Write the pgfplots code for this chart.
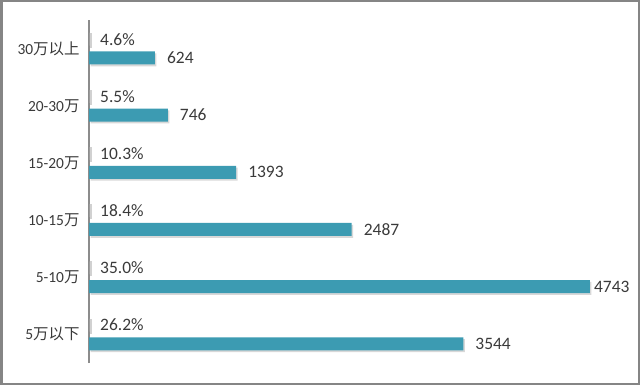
\documentclass[border=0pt]{standalone}
\usepackage{pgfplots}
\pgfplotsset{compat=1.18}
\usepackage{fontspec}
\setmainfont{Carlito}
\newfontfamily\cjk{Noto Sans CJK SC}
\usetikzlibrary{shadows}
\definecolor{barteal}{HTML}{3C9BB2}
\definecolor{txt}{HTML}{3A3A3A}
\definecolor{framegray}{HTML}{858585}
\definecolor{axisgray}{HTML}{8C8C8C}
\begin{document}
\begin{tikzpicture}[x=1bp,y=1bp]
\useasboundingbox (0,0) rectangle (640,385);
\draw[framegray, line width=2.5bp] (1.25,1.25) rectangle (638.75,383.75);
\begin{axis}[
  at={(89bp,22bp)}, anchor=south west,
  scale only axis, width=528bp, height=343bp,
  xbar, bar width=13bp,
  xmin=0, xmax=5000, ymin=-0.5, ymax=5.5,
  hide x axis, axis y line*=left,
  y axis line style={axisgray, line width=1.2bp},
  ytick={0,1,2,3,4,5},
  yticklabels={5{\cjk 万以下}, 5-10{\cjk 万}, 10-15{\cjk 万}, 15-20{\cjk 万}, 20-30{\cjk 万}, 30{\cjk 万以上}},
  major tick length=0pt,
  yticklabel style={font=\fontsize{15.5}{18}\selectfont, text=txt, xshift=-6bp},
  point meta=explicit symbolic,
  nodes near coords={\fontsize{17.5}{20}\selectfont\pgfplotspointmeta},
  every node near coord/.append style={text=txt, anchor=west, inner sep=0pt},
  clip=false,
]
\addplot[fill=white, draw=none, bar shift=9.4bp,
  preaction={draw=black!18, line width=2bp, transform canvas={xshift=2bp, yshift=-1bp}},
  every node near coord/.append style={xshift=11bp}]
  coordinates {(0.262,0) [26.2\%] (0.350,1) [35.0\%] (0.184,2) [18.4\%] (0.103,3) [10.3\%] (0.055,4) [5.5\%] (0.046,5) [4.6\%]};
\addplot[fill=barteal, draw=none, bar shift=-9.4bp,
  drop shadow={shadow xshift=1.5bp, shadow yshift=-1.8bp, fill=black!30},
  visualization depends on={rawx \as \xv},
  every node near coord/.append style={xshift={ifthenelse(\xv>4500,4,12)*1bp}}]
  coordinates {(3544,0) [3544] (4743,1) [4743] (2487,2) [2487] (1393,3) [1393] (746,4) [746] (624,5) [624]};
\end{axis}
\end{tikzpicture}
\end{document}
